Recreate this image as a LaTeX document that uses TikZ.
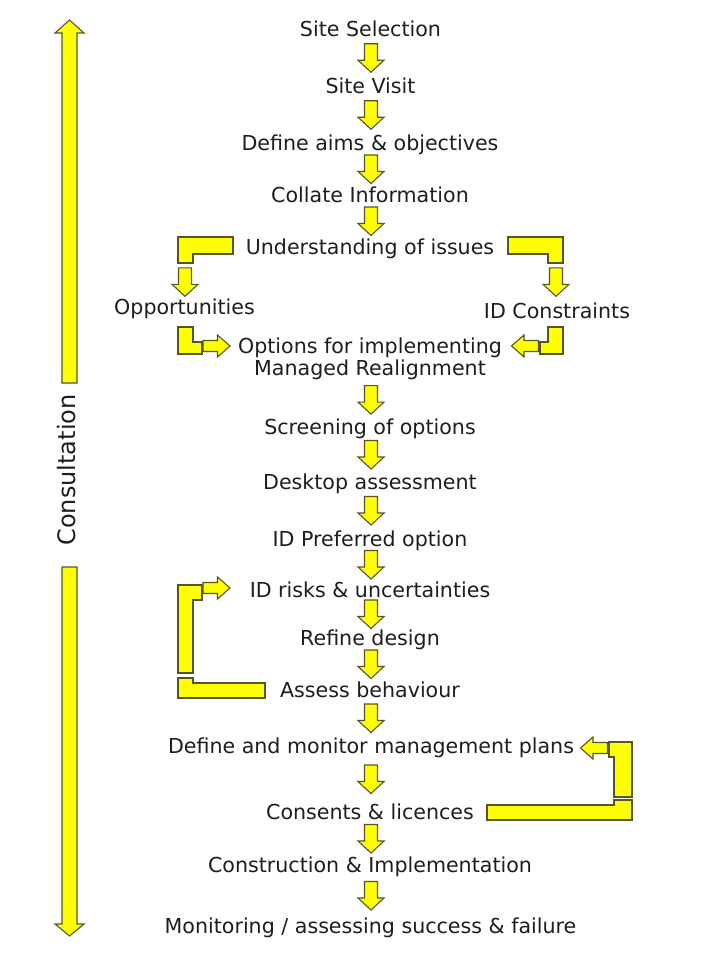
\documentclass[tikz,border=0pt]{standalone}
\usepackage{fontspec}
\setmainfont{DejaVu Sans}
\usetikzlibrary{calc}
\definecolor{ayel}{RGB}{255,255,0}
\definecolor{aedge}{RGB}{85,85,40}
\definecolor{txt}{RGB}{30,30,30}
\tikzset{
  lbl/.style={font=\fontsize{20.6}{21.5}\selectfont, text=txt, inner sep=0pt, text height=15pt, text depth=0pt},
  lbltwo/.style={font=\fontsize{20.6}{21.5}\selectfont, text=txt, inner sep=0pt, align=center},
  blk/.style={fill=ayel, draw=aedge, line width=1.1pt, line join=miter},
  darrow/.pic={\draw[blk] (-6.5,-14) -- (6.5,-14) -- (6.5,2.5) -- (13,2.5) -- (0,14.5) -- (-13,2.5) -- (-6.5,2.5) -- cycle;},
  rarrow/.pic={\draw[blk] (-13.5,-5.5) -- (1,-5.5) -- (1,-11) -- (13.5,0) -- (1,11) -- (1,5.5) -- (-13.5,5.5) -- cycle;},
  larrow/.pic={\draw[blk] (13.5,-5.5) -- (-1,-5.5) -- (-1,-11) -- (-13.5,0) -- (-1,11) -- (-1,5.5) -- (13.5,5.5) -- cycle;}
}
\begin{document}
\begin{tikzpicture}[x=1pt,y=-1pt]
\useasboundingbox (0,0) rectangle (720,960);
\fill[white] (0,0) rectangle (720,960);

% main column
\node[lbl] (ss)  at (370.5,29)  {Site Selection};
\node[lbl] (sv)  at (370.5,86.5){Site Visit};
\node[lbl] (da)  at (370,143)   {Define aims \& objectives};
\node[lbl] (ci)  at (370,195)   {Collate Information};
\node[lbl] (ui)  at (370,247)   {Understanding of issues};
\node[lbl] (op)  at (184.5,307) {Opportunities};
\node[lbl] (idc) at (557,311)   {ID Constraints};
\node[lbltwo] (opt) at (370,359) {Options for implementing\\Managed Realignment};
\node[lbl] (sc)  at (370,427)   {Screening of options};
\node[lbl] (de)  at (370,482)   {Desktop assessment};
\node[lbl] (pr)  at (370,539)   {ID Preferred option};
\node[lbl] (ri)  at (370,590)   {ID risks \& uncertainties};
\node[lbl] (rd)  at (370,638)   {Refine design};
\node[lbl] (ab)  at (370,690)   {Assess behaviour};
\node[lbl] (dm)  at (371,746)   {Define and monitor management plans};
\node[lbl] (cl)  at (370,812)   {Consents \& licences};
\node[lbl] (co)  at (370,865)   {Construction \& Implementation};
\node[lbl] (mo)  at (370.5,926) {Monitoring / assessing success \& failure};

% down arrows between steps
\foreach \a/\b in {ss/sv, sv/da, da/ci, ci/ui, opt/sc, sc/de, de/pr, pr/ri, ri/rd, rd/ab, ab/dm, dm/cl, cl/co, co/mo}
  \pic at ($(\a.south -| 371,0)!0.5!(\b.north -| 371,0)$) {darrow};

% Understanding -> Opportunities / ID Constraints
\draw[blk] (178,237) -- (233,237) -- (233,254) -- (193,254) -- (193,263) -- (178,263) -- cycle;
\pic at ($(op.north)+(0.5,-17.5)$) {darrow};
\draw[blk] (508,237) -- (563,237) -- (563,263) -- (548,263) -- (548,254) -- (508,254) -- cycle;
\pic at ($(idc.north)+(-1,-21.5)$) {darrow};

% Opportunities / ID Constraints -> Options
\draw[blk] (178,327) -- (193,327) -- (193,342) -- (202,342) -- (202,354) -- (178,354) -- cycle;
\pic at (216.5,346) {rarrow};
\draw[blk] (548,327) -- (563,327) -- (563,354) -- (540,354) -- (540,342) -- (548,342) -- cycle;
\pic at (525,346) {larrow};

% loop Assess behaviour -> ID risks
\draw[blk] (178,585) -- (202,585) -- (202,600) -- (193,600) -- (193,673) -- (178,673) -- cycle;
\pic at (216.5,588) {rarrow};
\draw[blk] (178,678) -- (193,678) -- (193,683) -- (265,683) -- (265,698) -- (178,698) -- cycle;

% loop Consents -> Define and monitor
\draw[blk] (487,805) -- (614,805) -- (614,800) -- (632,800) -- (632,820) -- (487,820) -- cycle;
\draw[blk] (609,742) -- (632,742) -- (632,797) -- (614,797) -- (614,757) -- (609,757) -- cycle;
\pic at (594,748) {larrow};

% Consultation
\node[font=\fontsize{24}{25}\selectfont, text=txt, inner sep=0pt, rotate=90] (cons) at (67,470) {Consultation};
\draw[blk] (62,383) -- (62,33) -- (55,33) -- (69.5,20) -- (84,33) -- (77,33) -- (77,383) -- cycle;
\draw[blk] (62,567) -- (77,567) -- (77,924) -- (84,924) -- (69.5,936) -- (55,924) -- (62,924) -- cycle;
\end{tikzpicture}
\end{document}
